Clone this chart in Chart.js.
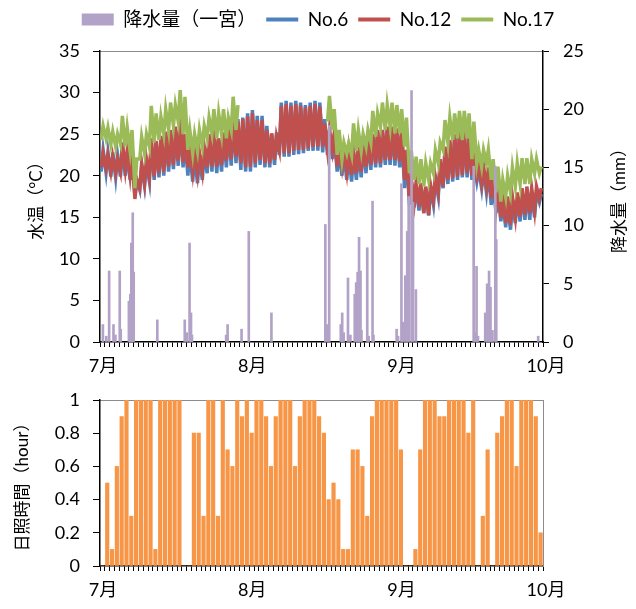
<!DOCTYPE html>
<html lang="ja">
<head>
<meta charset="utf-8">
<title>水温・降水量・日照時間</title>
<script src="https://cdn.jsdelivr.net/npm/chart.js@4.4.1/dist/chart.umd.min.js"></script>
<style>
  body { margin: 0; background: #fff; }
  #wrap { position: relative; width: 636px; height: 609px; }
  #topBox { position: absolute; left: 0; top: 0; width: 636px; height: 376px; }
  #bottomBox { position: absolute; left: 0; top: 376px; width: 636px; height: 233px; }
</style>
</head>
<body>
<div id="wrap">
  <div id="topBox"><canvas id="tempChart" width="636" height="376"></canvas></div>
  <div id="bottomBox"><canvas id="sunChart" width="636" height="233"></canvas></div>
</div>
<script>
// day index 0 = 7/1, 92 = 10/1
const monthLabels = { 0: '7月', 31: '8月', 62: '9月', 92: '10月' };

// daily low / high of water temperature (°C)
const no6Lo = [20.5,20.4,19.9,19.8,19.9,20.0,19.5,17.6,18.3,18.8, 19.3,19.5,19.8,20.0,20.5,20.8,21.2,21.0,20.0,19.3,
  19.1,19.5,20.3,20.5,20.3,20.5,21.0,21.2,21.5,20.7, 20.5,20.5,21.0,21.3,21.0,21.0,21.3,22.5,22.3,22.3,
  22.5,22.6,22.7,23.0,23.0,23.0,22.8,22.5,22.0,20.5, 20.0,19.5,19.3,19.5,19.8,20.3,20.7,21.0,21.0,21.3,
  21.3,21.2,21.0,18.5,16.5,16.2,15.8,15.5,15.2,16.5, 17.5,18.5,19.0,19.3,19.5,19.8,19.8,19.5,19.3,18.5,
  18.0,16.5,15.5,14.5,13.8,13.5,14.3,14.5,14.7,14.7, 15.0,16.8];
const no6Hi = [23.1,22.8,22.8,22.5,23.5,22.8,22.0,19.5,21.2,21.5, 24.0,24.0,24.5,25.0,25.2,25.5,26.8,24.5,23.0,22.5,
  22.3,23.0,24.8,25.3,24.3,25.0,26.0,26.8,26.8,27.0, 27.5,27.9,27.2,27.2,26.0,25.0,25.2,28.8,29.0,28.8,
  29.0,28.8,28.5,28.8,29.0,28.8,26.8,25.5,25.0,23.0, 22.8,22.7,22.8,23.3,24.0,24.5,25.0,25.3,25.5,25.5,
  25.8,25.5,25.3,23.0,19.5,19.0,18.8,18.5,18.5,19.5, 21.5,23.0,24.0,25.0,25.3,25.0,24.5,21.5,20.8,20.8,
  20.5,19.0,18.0,17.0,16.8,17.0,17.5,18.0,18.2,18.0, 18.0,17.8];
const no12Lo = [21.0,20.9,20.5,20.3,20.5,20.8,20.0,17.2,18.5,19.1, 19.8,19.9,20.3,20.5,21.1,21.3,21.8,21.6,21.0,20.5,
  20.3,20.5,21.0,21.1,21.1,21.3,21.8,22.0,22.3,21.5, 21.0,21.1,21.5,21.9,21.5,21.5,21.9,23.1,22.7,22.7,
  23.0,23.1,23.1,23.3,23.5,23.5,23.5,23.1,23.1,21.1, 21.1,20.5,20.1,20.3,20.5,21.1,21.3,21.5,21.5,21.9,
  21.9,21.9,21.7,19.5,17.1,16.8,16.3,15.5,15.3,17.1, 18.0,18.7,19.5,19.7,19.9,20.1,20.3,20.0,19.9,19.0,
  18.7,17.3,16.3,15.0,14.3,14.1,15.0,15.1,15.3,15.5, 15.8,17.3];
const no12Hi = [22.7,22.5,22.3,22.0,24.0,23.0,22.5,19.5,21.5,22.0, 24.5,24.2,24.8,25.3,25.5,25.9,27.1,25.0,23.5,23.0,
  22.8,23.5,25.0,25.5,24.5,25.2,26.0,26.7,26.5,26.8, 27.1,27.5,26.7,26.7,25.5,25.1,24.7,28.4,28.6,28.4,
  28.6,28.4,28.2,28.4,28.6,28.3,26.3,25.5,25.1,23.5, 23.1,23.1,23.0,23.5,24.0,24.7,25.0,25.5,25.5,25.9,
  25.9,25.7,25.5,23.1,19.5,19.3,19.1,18.7,18.9,19.9, 22.0,23.5,24.3,25.0,25.5,25.3,24.7,22.0,21.1,21.1,
  21.0,19.5,18.7,17.5,17.5,17.5,18.0,18.5,18.7,18.5, 18.7,18.5];
// No.17 has no record from 7/30 to 8/16
const no17Lo = [24.3,24.5,23.8,23.5,23.8,23.5,23.0,18.5,22.0,22.7, 23.5,24.0,24.3,25.0,25.5,26.0,26.5,25.0,23.1,22.7,
  23.0,23.5,24.5,25.1,24.5,25.0,24.5,25.5,25.5,null, null,null,null,null,null,null,null,null,null,null,
  null,null,null,null,null,null,null,26.5,25.5,22.5, 22.0,22.7,22.5,23.0,23.0,23.5,24.0,24.7,25.9,25.5,
  25.9,25.1,25.1,23.5,20.3,19.5,19.0,18.7,19.5,20.3, 21.5,23.1,24.0,24.3,24.5,24.3,24.5,22.0,21.5,21.1,
  21.5,19.5,18.0,16.9,17.5,18.0,18.7,19.0,19.0,19.0, 20.3,20.3];
const no17Hi = [26.0,25.8,25.3,25.0,27.2,25.8,25.5,22.0,24.7,25.0, 28.4,27.5,27.1,28.0,28.8,28.5,30.3,29.5,25.5,25.0,
  25.5,26.0,27.0,28.0,27.5,28.0,27.0,29.5,28.5,null, null,null,null,null,null,null,null,null,null,null,
  null,null,null,null,null,null,null,29.6,28.0,25.5, 24.0,23.9,26.3,25.5,25.0,25.5,27.8,27.5,28.8,28.5,
  28.8,28.5,28.0,27.0,23.0,22.3,22.0,21.5,21.5,23.1, 24.0,26.7,27.0,27.5,27.8,27.8,27.5,26.5,23.1,23.1,
  23.1,22.0,21.1,19.5,20.0,21.0,21.5,22.1,22.1,22.0, 22.0,21.1];

// hourly rain at 一宮 (mm), position in days from 7/1
const rainDay = [0.6,1.3,1.9,2.8,3.2,4.1,4.3,6.0,6.3,6.5,6.8,7.0,11.9,17.6,18.0,18.6,18.9,19.1,26.2,26.5,
  29.4,30.9,35.6,46.8,47.1,47.6,50.0,50.3,50.6,51.5,52.0,52.9,53.2,53.5,53.8,54.1,54.3,55.5,55.8,56.6,
  56.8,61.6,61.9,62.6,62.9,63.4,63.8,64.1,64.7,65.0,65.6,77.6,77.9,78.2,78.5,80.0,80.4,80.8,81.1,81.5,
  82.1,82.3,91.0];
const rainMm = [1.5,0.5,6.1,1.5,0.6,6.1,1.1,3.5,4.1,8.5,11.1,6.0,1.9,1.9,0.8,8.5,2.5,0.6,0.6,1.5,
  1.1,9.5,2.5,10.1,1.5,18.6,1.5,2.5,0.8,5.5,0.6,4.1,5.1,6.0,9.0,6.1,1.0,8.1,0.5,12.1,
  0.6,1.1,0.5,13.6,1.7,5.7,9.5,12.5,21.6,12.0,4.5,15.1,0.8,6.5,0.5,2.5,5.0,6.1,4.7,1.0,
  15.1,8.8,0.5];

// peak hourly sunshine of each day (hour)
const sunHours = [0,0.5,0.1,0.6,0.9,1.0,0.3,1.0,1.0,1.0, 1.0,0.1,1.0,1.0,1.0,1.0,1.0,0,0,0.8,
  0.8,0.3,1.0,1.0,0.3,1.0,0.7,0.6,1.0,0.9, 1.0,0.8,1.0,1.0,0.9,0.6,0.9,1.0,1.0,1.0,
  0.6,0.9,1.0,1.0,1.0,0.9,0.8,0.4,0.5,0.4, 0.1,0.1,0.7,0.7,0.6,0.3,0.9,1.0,1.0,1.0,
  1.0,1.0,0.7,0,0,0.1,0.7,1.0,1.0,1.0, 0.9,0.9,1.0,1.0,1.0,1.0,0.8,1.0,0,0.3,
  0.7,0,0.8,0.9,1.0,1.0,0.6,1.0,1.0,1.0, 0.9,0.2];

const FONT = 'Lato, "Noto Sans CJK JP", sans-serif';
Chart.defaults.font.family = FONT;
Chart.defaults.color = '#000';

// low in the morning, high in the afternoon
function dailyCycle(lo, hi) {
  const pts = [];
  for (let d = 0; d < lo.length; d++) {
    pts.push({ x: d + 0.25, y: lo[d] });
    pts.push({ x: d + 0.65, y: hi[d] });
  }
  return pts;
}

function dayAxis(height) {
  return {
    type: 'linear', min: 0, max: 92, offset: false,
    grid: { drawOnChartArea: false, offset: false, tickLength: 5, color: '#000' },
    border: { color: '#000', width: 1.5 },
    ticks: {
      stepSize: 1, autoSkip: false, maxRotation: 0, padding: 8, labelOffset: 3,
      font: { size: 18 },
      callback: v => monthLabels[v] || ''
    },
    afterFit: s => { s.height = height; }
  };
}

function frameAxis(position, size) {
  const horizontal = position === 'top';
  return {
    type: 'linear', position: position, min: 0, max: 1,
    grid: { drawOnChartArea: false, drawTicks: false },
    ticks: { display: false },
    border: { color: '#8c8c8c', width: 1 },
    afterFit: s => { if (horizontal) s.height = size; else s.width = size; }
  };
}

const rightTitle = {
  id: 'rightTitle',
  afterDraw(chart, args, opts) {
    if (!opts.text) return;
    const ctx = chart.ctx;
    ctx.save();
    ctx.translate(opts.x, (chart.chartArea.top + chart.chartArea.bottom) / 2);
    ctx.rotate(-Math.PI / 2);
    ctx.font = '17px ' + FONT;
    ctx.fillStyle = '#000';
    ctx.textAlign = 'center';
    ctx.textBaseline = 'middle';
    ctx.fillText(opts.text, 0, 0);
    ctx.restore();
  }
};

new Chart(document.getElementById('tempChart'), {
  type: 'line',
  plugins: [rightTitle],
  data: {
    datasets: [
      {
        type: 'bar', label: '降水量（一宮）', yAxisID: 'y2', order: 0,
        data: rainDay.map((d, i) => ({ x: d, y: rainMm[i] })),
        backgroundColor: '#b3a2c7', borderColor: '#b3a2c7', barThickness: 2
      },
      {
        label: 'No.6', yAxisID: 'y', order: 3, data: dailyCycle(no6Lo, no6Hi),
        borderColor: '#4f81bd', backgroundColor: '#4f81bd', borderWidth: 3.5, pointRadius: 0
      },
      {
        label: 'No.12', yAxisID: 'y', order: 2, data: dailyCycle(no12Lo, no12Hi),
        borderColor: '#c0504d', backgroundColor: '#c0504d', borderWidth: 3.5, pointRadius: 0
      },
      {
        label: 'No.17', yAxisID: 'y', order: 1, data: dailyCycle(no17Lo, no17Hi),
        borderColor: '#9bbb59', backgroundColor: '#9bbb59', borderWidth: 3.5, pointRadius: 0
      }
    ]
  },
  options: {
    responsive: false,
    animation: false,
    events: [],
    layout: { padding: 0 },
    plugins: {
      tooltip: { enabled: false },
      rightTitle: { x: 620, text: '降水量（mm）' },
      legend: {
        position: 'top',
        labels: {
          usePointStyle: true, pointStyleWidth: 32, boxHeight: 12, padding: 10,
          font: { size: 19 },
          generateLabels: chart => chart.data.datasets.map((ds, i) => ({
            text: ds.label,
            fillStyle: ds.backgroundColor,
            strokeStyle: ds.borderColor,
            lineWidth: ds.type === 'bar' ? 0 : 4,
            pointStyle: ds.type === 'bar' ? 'rect' : 'line',
            hidden: false,
            datasetIndex: i
          }))
        }
      }
    },
    scales: {
      x: dayAxis(34),
      xTop: frameAxis('top', 12),
      y: {
        position: 'left', min: 0, max: 35,
        ticks: { stepSize: 5, padding: 13, font: { size: 18 } },
        grid: { drawOnChartArea: false, tickLength: 7, color: '#000' },
        border: { color: '#000', width: 1.5 },
        title: { display: true, text: '水温（°C）', font: { size: 17 }, padding: { top: 26, bottom: 0 } },
        afterFit: s => { s.width = 100; }
      },
      y2: {
        position: 'right', min: 0, max: 25,
        ticks: { stepSize: 5, padding: 14, font: { size: 18 } },
        grid: { drawOnChartArea: false, tickLength: 6, color: '#000' },
        border: { color: '#000', width: 1.5 },
        afterFit: s => { s.width = 93; }
      }
    }
  }
});

new Chart(document.getElementById('sunChart'), {
  type: 'bar',
  data: {
    datasets: [{
      label: '日照時間',
      data: sunHours.map((v, d) => ({ x: d + 0.5, y: v })),
      backgroundColor: '#f79646', barThickness: 3.5
    }]
  },
  options: {
    responsive: false,
    animation: false,
    events: [],
    layout: { padding: 0 },
    plugins: { legend: { display: false }, tooltip: { enabled: false } },
    scales: {
      x: dayAxis(43),
      xTop: frameAxis('top', 24),
      y: {
        position: 'left', min: 0, max: 1,
        ticks: { stepSize: 0.2, padding: 13, font: { size: 18 }, callback: v => String(Math.round(v * 10) / 10) },
        grid: { drawOnChartArea: false, tickLength: 7, color: '#000' },
        border: { color: '#000', width: 1.5 },
        title: { display: true, text: '日照時間（hour）', font: { size: 17 }, padding: { top: 12, bottom: 0 } },
        afterFit: s => { s.width = 100; }
      },
      yRight: frameAxis('right', 93)
    }
  }
});
</script>
</body>
</html>
